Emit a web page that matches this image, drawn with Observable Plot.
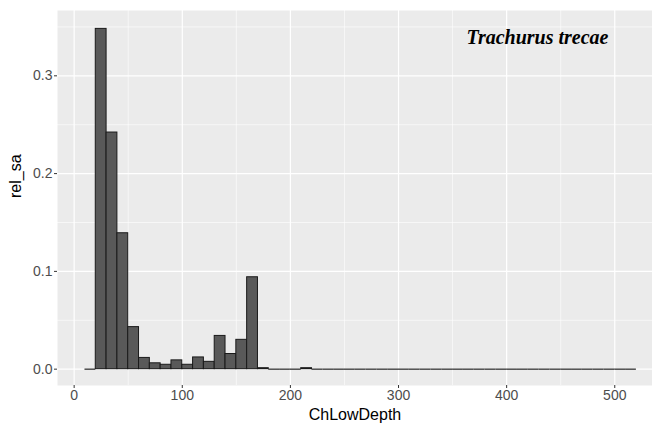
<!DOCTYPE html>
<html>
<head>
<meta charset="utf-8">
<script src="https://cdn.jsdelivr.net/npm/d3@7"></script>
<script src="https://cdn.jsdelivr.net/npm/@observablehq/plot@0.6"></script>
<style>
  html, body { margin: 0; padding: 0; background: #ffffff; }
  #chart svg { display: block; }
</style>
</head>
<body>
<div id="chart"></div>
<script>
// Lower edge of each 10 m depth bin (ChLowDepth)
const binStart = [10, 20, 30, 40, 50, 60, 70, 80, 90, 100,
  110, 120, 130, 140, 150, 160, 170, 180, 190, 200,
  210, 220, 230, 240, 250, 260, 270, 280, 290, 300,
  310, 320, 330, 340, 350, 360, 370, 380, 390, 400,
  410, 420, 430, 440, 450, 460, 470, 480, 490, 500, 510];

// Relative acoustic density (rel_sa) in each bin
const relSa = [0, 0.348, 0.242, 0.139, 0.043, 0.0115, 0.006, 0.0045, 0.009, 0.0045,
  0.012, 0.0075, 0.034, 0.0155, 0.030, 0.094, 0.001, 0, 0, 0,
  0.001, 0, 0, 0, 0, 0, 0, 0, 0, 0,
  0, 0, 0, 0, 0, 0, 0, 0, 0, 0,
  0, 0, 0, 0, 0, 0, 0, 0, 0, 0, 0];

const binWidth = 10;
const xTicks = [0, 100, 200, 300, 400, 500];
const xMinor = [50, 150, 250, 350, 450];
const yTicks = [0, 0.1, 0.2, 0.3];
const yMinor = [0.05, 0.15, 0.25, 0.35];
const species = "Trachurus trecae";
const xTitle = "ChLowDepth";
const yTitle = "rel_sa";

const bins = binStart.map((x, i) => ({x1: x, x2: x + binWidth, y: relSa[i]}));
const emptyBins = bins.filter(d => d.y === 0);

const chart = Plot.plot({
  width: 652,
  height: 425,
  marginLeft: 57,
  marginRight: 0,
  marginTop: 10,
  marginBottom: 40,
  style: {fontFamily: "Liberation Sans, Arial, sans-serif", background: "#ffffff"},
  x: {domain: [-15.4, 534.9]},
  y: {domain: [-0.0167, 0.3668]},
  marks: [
    Plot.frame({fill: "#ebebeb", stroke: null}),
    Plot.ruleX(xMinor, {stroke: "#ffffff", strokeWidth: 0.6}),
    Plot.ruleY(yMinor, {stroke: "#ffffff", strokeWidth: 0.6}),
    Plot.ruleX(xTicks, {stroke: "#ffffff", strokeWidth: 1.2}),
    Plot.ruleY(yTicks, {stroke: "#ffffff", strokeWidth: 1.2}),
    Plot.axisX(xTicks, {
      tickSize: 3, tickPadding: 2, stroke: "#333333", color: "#4d4d4d",
      fontSize: 14, label: null
    }),
    Plot.axisY(yTicks, {
      tickSize: 3, tickPadding: 2, stroke: "#333333", color: "#4d4d4d",
      fontSize: 14, tickFormat: d3.format(".1f"), label: null
    }),
    // empty bins still show their outline along the baseline
    Plot.ruleY(emptyBins, {x1: "x1", x2: "x2", y: "y", stroke: "#333333", strokeWidth: 1.3}),
    Plot.rectY(bins.filter(d => d.y > 0), {
      x1: "x1", x2: "x2", y: "y",
      fill: "#595959", stroke: "#1a1a1a", strokeWidth: 1
    }),
    Plot.text([species], {
      x: 428.5, y: 0.339, text: d => d,
      fontFamily: "Liberation Serif, serif", fontStyle: "italic", fontWeight: "bold",
      fontSize: 20, fill: "#000000"
    }),
    Plot.text([xTitle], {
      frameAnchor: "bottom", text: d => d, dy: 34,
      fontSize: 16, fill: "#000000"
    }),
    Plot.text([yTitle], {
      frameAnchor: "left", text: d => d, dx: -42, rotate: -90,
      fontSize: 16, fill: "#000000"
    })
  ]
});

document.getElementById("chart").appendChild(chart);
</script>
</body>
</html>
